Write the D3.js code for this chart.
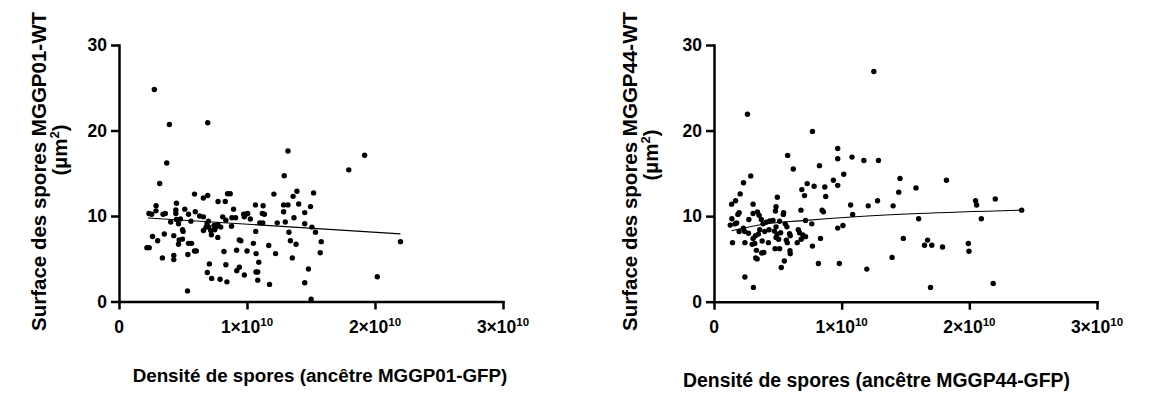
<!DOCTYPE html>
<html><head><meta charset="utf-8">
<script src="https://cdn.jsdelivr.net/npm/d3@7"></script>
<style>
body{margin:0;background:#fff;}
text{font-family:"Liberation Sans",Arial,sans-serif;font-weight:bold;fill:#000;}
</style></head>
<body>
<svg id="c" width="1154" height="405"></svg>
<script>
// x values are in units of 1e10 spores
const X_UNIT = 1e10;
const xTickValues = [0, 1, 2, 3];
const xTickMantissa = ["0", "1×10", "2×10", "3×10"];
const xTickExponent = ["", "10", "10", "10"];
const yTickValues = [0, 10, 20, 30];

const densite01 = [0.276,0.394,0.693,0.373,0.318,1.320,1.291,1.795,1.919,2.199,2.018,1.501,0.535,1.176,1.451,1.480,
0.59,0.659,0.693,0.848,0.869,1.21,1.39,1.52,1.36,0.29,0.449,0.774,0.83,1.066,1.126,1.286,1.32,1.404,1.496,
0.234,0.255,0.289,0.344,0.362,0.444,0.444,0.514,0.543,0.596,0.63,0.66,0.895,0.974,0.99,1.005,0.979,1.026,1.12,1.136,1.286,1.451,1.367,
0.404,0.449,0.48,0.465,0.562,0.698,0.688,0.68,0.70,0.66,0.717,0.743,0.756,0.748,0.772,0.795,0.81,0.835,0.882,0.911,0.879,1.10,1.123,1.236,1.299,1.451,1.507,
0.496,0.501,1.068,1.328,1.535,0.262,0.302,0.354,0.428,0.47,0.496,0.543,0.567,0.722,0.772,0.94,0.952,1.05,1.17,1.339,1.383,1.58,0.465,
0.218,0.236,0.339,0.428,0.428,0.538,0.59,0.604,0.82,0.919,1.0,1.071,1.223,1.354,1.572,0.706,0.835,1.092,0.92,0.94,0.979,1.07,1.084,0.69,0.724,0.79,0.843,1.084];
const surface01 = [24.8,20.7,20.9,16.2,13.8,17.6,14.7,15.4,17.1,7.0,2.9,0.27,1.24,2.0,2.2,3.8,
12.56,12.1,12.4,12.6,12.6,12.56,12.9,12.7,12.3,11.2,11.5,11.7,11.7,11.3,11.2,11.3,11.3,11.4,11.1,
10.3,10.2,10.6,10.2,10.3,10.7,10.3,10.8,10.2,10.5,10.0,9.9,10.8,10.2,10.2,10.3,9.9,9.65,10.3,10.2,10.5,10.4,9.8,
9.3,9.6,9.65,9.1,9.4,9.4,9.1,8.7,8.7,8.3,8.3,8.9,8.7,8.4,9.0,8.7,9.9,9.5,9.8,9.8,8.8,9.2,9.2,9.2,9.3,9.1,8.7,
8.4,8.2,8.2,8.1,8.1,7.6,7.1,7.9,7.7,7.2,7.3,6.8,6.8,7.8,7.5,7.2,7.1,6.8,6.55,7.1,6.7,7.0,6.7,
6.3,6.3,5.1,5.4,4.9,5.5,5.9,5.9,5.85,6.0,5.9,5.6,5.6,5.1,5.7,4.4,4.3,4.6,3.6,4.0,3.1,3.45,3.45,3.4,2.7,2.6,2.3,2.5];

const densite44 = [1.252,0.262,0.771,0.309,0.242,1.696,2.187,1.197,0.982,0.818,1.395,0.527,0.551,
0.577,0.969,0.969,1.081,1.174,1.288,0.621,0.826,0.288,1.016,0.935,0.969,1.457,1.821,1.582,1.447,
0.231,0.205,0.73,0.784,0.868,0.688,0.709,0.875,0.496,0.138,0.169,0.306,0.197,0.187,0.14,
0.486,0.481,0.545,0.543,0.681,0.847,0.857,1.07,1.208,1.281,1.403,2.049,2.057,2.203,1.086,1.603,2.094,2.41,
1.01,0.969,0.766,0.717,0.273,0.177,0.127,0.145,0.242,0.24,0.27,0.306,0.34,0.353,0.371,0.384,0.41,0.436,0.462,0.514,
0.486,0.558,0.571,0.358,0.397,0.431,0.473,0.494,0.522,0.592,0.597,0.66,0.67,0.696,0.717,0.348,0.306,0.325,0.377,0.426,
0.486,0.506,0.566,0.574,0.652,0.683,0.299,0.319,0.332,0.374,0.478,0.514,0.595,0.597,0.327,0.338,0.39,0.771,0.834,
1.483,1.673,1.649,1.706,1.79,1.992,1.997,0.197,0.23,0.164];
const surface44 = [26.9,21.9,19.9,1.67,2.88,1.67,2.14,3.81,4.47,4.47,5.18,4.0,4.75,
17.1,17.9,16.7,16.9,16.5,16.5,15.5,15.9,14.7,14.9,14.2,13.6,14.4,14.2,13.3,12.8,
13.9,12.6,13.8,13.5,13.4,13.1,12.4,12.3,12.2,11.4,11.8,11.4,10.4,10.2,9.7,
11.1,10.6,10.4,10.2,10.7,10.7,10.5,11.3,11.2,11.8,11.2,11.8,11.3,12.0,10.2,9.7,9.7,10.7,
8.9,8.6,9.1,9.5,9.6,9.2,8.95,6.9,6.9,8.2,8.0,10.3,10.5,10.1,9.6,9.1,9.3,9.45,9.5,9.4,
8.75,9.1,8.75,8.4,8.2,8.4,8.25,7.9,8.05,7.95,7.7,8.4,8.05,7.8,7.6,7.9,7.4,7.7,7.1,6.9,
7.5,7.3,7.2,6.9,6.9,7.3,6.7,6.8,6.0,5.7,6.2,6.2,5.95,5.6,5.1,5.0,5.75,6.5,7.4,
7.4,7.2,6.6,6.6,6.4,6.8,5.9,8.2,8.6,9.1];

// fitted curves
const fit01X = [0.226, 2.199];
const fit01Y = [9.77, 7.91];
const fit44X = [0.138, 0.41, 0.673, 1.14, 1.6, 2.41];
const fit44Y = [8.3, 9.1, 9.45, 9.95, 10.3, 10.7];

const panels = [
  {xs: densite01, ys: surface01, fx: fit01X, fy: fit01Y,
   xr: [119, 503], yr: [301.5, 45],
   ytitle: "Surface des spores MGGP01-WT", yt1: [46, 171.5], yt2: [66.5, 150],
   xtitle: "Densité de spores (ancêtre MGGP01-GFP)", xt: [320, 382], xfs: 18.8},
  {xs: densite44, ys: surface44, fx: fit44X, fy: fit44Y,
   xr: [714, 1097], yr: [301.7, 45],
   ytitle: "Surface des spores MGGP44-WT", yt1: [637, 171.5], yt2: [657.5, 155],
   xtitle: "Densité de spores (ancêtre MGGP44-GFP)", xt: [876.5, 387], xfs: 19.4}
];

const svg = d3.select("#c");

panels.forEach(p => {
  const x = d3.scaleLinear().domain([0, 3 * X_UNIT]).range(p.xr);
  const y = d3.scaleLinear().domain([0, 30]).range(p.yr);
  const g = svg.append("g");

  // points
  g.selectAll("circle.pt").data(p.xs.map((d, i) => [d * X_UNIT, p.ys[i]]))
    .enter().append("circle")
    .attr("cx", d => x(d[0])).attr("cy", d => y(d[1]))
    .attr("r", 2.7).attr("fill", "#000");

  // fit line
  const line = d3.line().x(d => x(d[0] * X_UNIT)).y(d => y(d[1])).curve(d3.curveMonotoneX);
  g.append("path").datum(p.fx.map((d, i) => [d, p.fy[i]]))
    .attr("d", line).attr("fill", "none").attr("stroke", "#000").attr("stroke-width", 1.1);

  // y axis
  const ya = g.append("g").attr("transform", `translate(${p.xr[0]},0)`)
    .call(d3.axisLeft(y).tickValues(yTickValues).tickSize(8).tickSizeOuter(0).tickPadding(4));
  // x axis
  const xa = g.append("g").attr("transform", `translate(0,${p.yr[0]})`)
    .call(d3.axisBottom(x).tickValues(xTickValues.map(v => v * X_UNIT)).tickSize(8).tickSizeOuter(0).tickFormat(() => ""));
  [ya, xa].forEach(a => {
    a.select(".domain").attr("stroke", "#000").attr("stroke-width", 2.5).attr("stroke-linecap", "square");
    a.selectAll(".tick line").attr("stroke", "#000").attr("stroke-width", 2.5);
  });
  ya.selectAll(".tick text").attr("font-size", 17.5).attr("font-family", "Liberation Sans, Arial, sans-serif").attr("font-weight", "bold");

  // x tick labels with superscript
  xTickValues.forEach((v, i) => {
    const t = g.append("text").attr("x", x(v * X_UNIT)).attr("y", p.yr[0] + 31)
      .attr("text-anchor", "middle").attr("font-size", 17.5);
    t.append("tspan").text(xTickMantissa[i]);
    if (xTickExponent[i]) t.append("tspan").attr("font-size", 11.5).attr("dy", -7).text(xTickExponent[i]);
  });

  // y title
  g.append("text").attr("transform", `translate(${p.yt1[0]},${p.yt1[1]}) rotate(-90)`)
    .attr("text-anchor", "middle").attr("font-size", 20.5).text(p.ytitle);
  const t2 = g.append("text").attr("transform", `translate(${p.yt2[0]},${p.yt2[1]}) rotate(-90)`)
    .attr("text-anchor", "middle").attr("font-size", 20.5);
  t2.append("tspan").text("(µm");
  t2.append("tspan").attr("font-size", 13).attr("dy", -8).text("2");
  t2.append("tspan").attr("dy", 8).text(")");

  // x title
  g.append("text").attr("x", p.xt[0]).attr("y", p.xt[1])
    .attr("text-anchor", "middle").attr("font-size", p.xfs).text(p.xtitle);
});
</script>
</body></html>
